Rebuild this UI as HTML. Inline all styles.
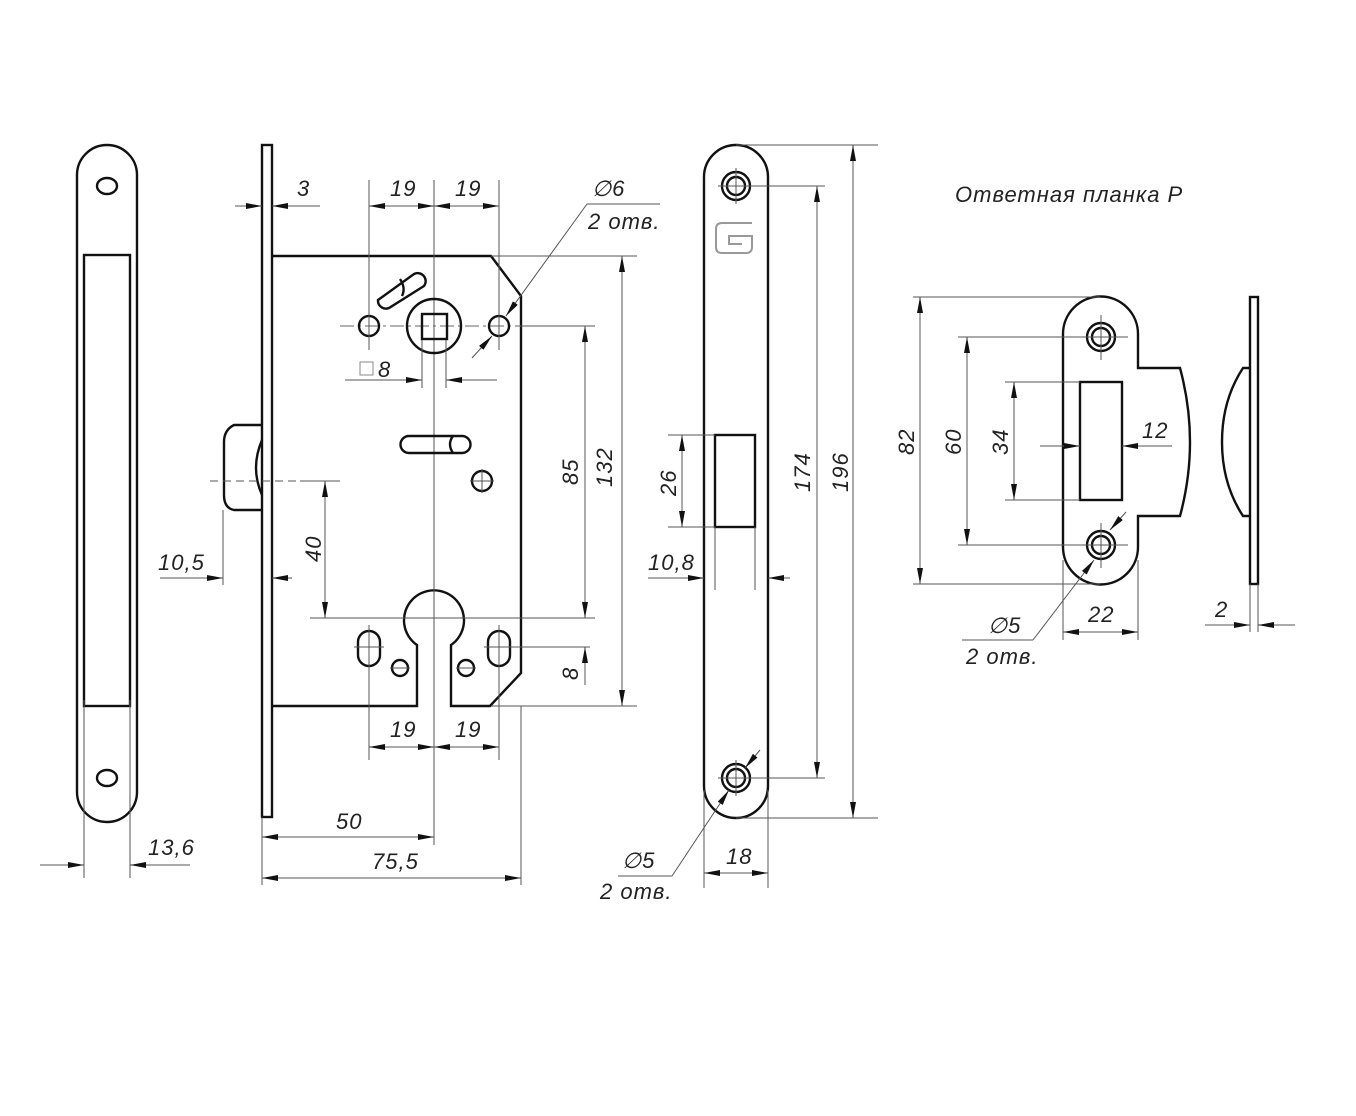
<!DOCTYPE html>
<html><head><meta charset="utf-8"><style>
html,body{margin:0;padding:0;background:#fff}
svg{display:block}
text{font-family:"Liberation Sans",sans-serif;font-style:italic;font-size:22px;letter-spacing:1px;fill:#222}
.o{stroke:#111;stroke-width:2.4;fill:none}
.t{stroke:#555;stroke-width:1;fill:none}
.c{stroke:#666;stroke-width:1;fill:none;stroke-dasharray:14 4 3 4}
.d{stroke:#555;stroke-width:1;fill:none;stroke-dasharray:8 5}
</style></head><body>
<svg width="1356" height="1116" viewBox="0 0 1356 1116" xmlns="http://www.w3.org/2000/svg">
<defs>
<marker id="a" viewBox="0 0 16 6" refX="16" refY="3" markerWidth="16" markerHeight="6" orient="auto" markerUnits="userSpaceOnUse"><path d="M0,0L16,3L0,6z" fill="#111"/></marker>
<marker id="b" viewBox="0 0 16 6" refX="0" refY="3" markerWidth="16" markerHeight="6" orient="auto" markerUnits="userSpaceOnUse"><path d="M16,0L0,3L16,6z" fill="#111"/></marker>
</defs>

<!-- LEFT VIEW -->
<path class="o" d="M77,175 A30,30 0 0 1 137,175 L137,792 A30,30 0 0 1 77,792 Z"/>
<rect class="o" x="84" y="255" width="46" height="451"/>
<ellipse class="o" cx="107" cy="186" rx="10" ry="8"/>
<ellipse class="o" cx="107" cy="778" rx="10" ry="8"/>
<line class="t" x1="84" y1="700" x2="84" y2="878"/>
<line class="t" x1="130" y1="700" x2="130" y2="878"/>
<line class="t" x1="40" y1="865" x2="84" y2="865" marker-end="url(#a)"/>
<line class="t" x1="190" y1="865" x2="130" y2="865" marker-end="url(#a)"/>
<text x="148" y="855">13,6</text>

<!-- LOCK BODY -->
<rect class="o" x="262" y="145" width="10" height="672"/>
<path class="o" d="M272,256 L491,256 L521,296 L521,673 L490,706 L451,706 L451,645 A30,30 0 1 0 417,645 L417,706 L272,706"/>
<!-- latch -->
<path class="o" d="M262,425 L234,425 Q224,430 224,442 L224,495 Q224,508 234,510 L262,510"/>
<path class="o" d="M262,440 Q250,468 262,495"/>
<line class="d" x1="210" y1="481" x2="340" y2="481"/>
<line class="t" x1="434" y1="180" x2="434" y2="845"/>
<line class="c" x1="340" y1="326" x2="530" y2="326"/>
<circle class="o" cx="434" cy="326" r="27"/>
<rect class="o" x="422" y="314" width="25" height="25"/>
<circle class="o" cx="369" cy="326" r="10"/>
<circle class="o" cx="499" cy="326" r="10"/>
<line class="t" x1="369" y1="310" x2="369" y2="342"/><line class="t" x1="499" y1="310" x2="499" y2="342"/>
<path class="o" d="M378,300 L414,274 A8,8 0 0 1 424,286 L389,308 A8,8 0 0 1 378,300 Z"/>
<path class="o" d="M400,279 Q406,288 402,296"/>
<path class="o" d="M409,436 L462,436 A8,8 0 0 1 462,453 L409,453 A8,8 0 0 1 409,436 Z"/>
<path class="o" d="M453,436 Q447,444 453,453"/>
<circle class="o" cx="482" cy="481" r="10"/>
<line class="t" x1="470" y1="481" x2="494" y2="481"/><line class="t" x1="482" y1="469" x2="482" y2="493"/>
<rect class="o" x="358" y="631" width="22" height="35" rx="11"/>
<rect class="o" x="488" y="631" width="22" height="35" rx="11"/>
<circle class="o" cx="400" cy="668" r="8"/>
<circle class="o" cx="466" cy="668" r="8"/>
<line class="t" x1="354" y1="647" x2="384" y2="647"/><line class="t" x1="484" y1="647" x2="590" y2="647"/>
<line class="t" x1="369" y1="625" x2="369" y2="760"/><line class="t" x1="499" y1="625" x2="499" y2="760"/>
<line class="t" x1="390" y1="668" x2="410" y2="668"/><line class="t" x1="456" y1="668" x2="476" y2="668"/>
<line class="t" x1="369" y1="180" x2="369" y2="350"/>
<line class="t" x1="499" y1="180" x2="499" y2="350"/>
<line class="t" x1="235" y1="206" x2="262" y2="206" marker-end="url(#a)"/>
<line class="t" x1="320" y1="206" x2="272" y2="206" marker-end="url(#a)"/>
<text x="297" y="196">3</text>
<line class="t" x1="369" y1="206" x2="434" y2="206" marker-start="url(#b)" marker-end="url(#a)"/>
<line class="t" x1="434" y1="206" x2="499" y2="206" marker-start="url(#b)" marker-end="url(#a)"/>
<text x="390" y="196">19</text><text x="455" y="196">19</text>
<line class="t" x1="587" y1="204" x2="660" y2="204"/>
<line class="t" x1="587" y1="204" x2="506" y2="316" marker-end="url(#a)"/>
<line class="t" x1="472" y1="358" x2="492" y2="336" marker-end="url(#a)"/>
<text x="592" y="196">∅6</text><text x="588" y="229">2 отв.</text>
<line class="t" x1="422" y1="340" x2="422" y2="388"/><line class="t" x1="446" y1="340" x2="446" y2="388"/>
<line class="t" x1="400" y1="380" x2="422" y2="380" marker-end="url(#a)"/>
<line class="t" x1="497" y1="380" x2="446" y2="380" marker-end="url(#a)"/>
<line class="t" x1="345" y1="380" x2="400" y2="380"/>
<rect x="360" y="362" width="13" height="13" fill="none" stroke="#888"/>
<text x="378" y="377">8</text>
<line class="t" x1="491" y1="256" x2="637" y2="256"/>
<line class="t" x1="491" y1="706" x2="637" y2="706"/>
<line class="t" x1="521" y1="326" x2="595" y2="326"/>
<line class="t" x1="310" y1="618" x2="595" y2="618"/>
<line class="t" x1="622" y1="256" x2="622" y2="706" marker-start="url(#b)" marker-end="url(#a)"/>
<line class="t" x1="585" y1="326" x2="585" y2="618" marker-start="url(#b)" marker-end="url(#a)"/>
<line class="t" x1="585" y1="647" x2="585" y2="685" marker-start="url(#b)"/>
<text transform="translate(612,487) rotate(-90)">132</text>
<text transform="translate(578,485) rotate(-90)">85</text>
<text transform="translate(578,680) rotate(-90)">8</text>
<line class="t" x1="300" y1="481" x2="340" y2="481"/>
<line class="t" x1="325" y1="481" x2="325" y2="618" marker-start="url(#b)" marker-end="url(#a)"/>
<text transform="translate(321,562) rotate(-90)">40</text>
<line class="t" x1="223" y1="510" x2="223" y2="585"/>
<line class="t" x1="160" y1="578" x2="223" y2="578" marker-end="url(#a)"/>
<line class="t" x1="292" y1="578" x2="272" y2="578" marker-end="url(#a)"/>
<text x="158" y="570">10,5</text>
<line class="t" x1="369" y1="747" x2="434" y2="747" marker-start="url(#b)" marker-end="url(#a)"/>
<line class="t" x1="434" y1="747" x2="499" y2="747" marker-start="url(#b)" marker-end="url(#a)"/>
<text x="390" y="737">19</text><text x="455" y="737">19</text>
<line class="t" x1="262" y1="817" x2="262" y2="885"/>
<line class="t" x1="521" y1="706" x2="521" y2="885"/>
<line class="t" x1="262" y1="837" x2="434" y2="837" marker-start="url(#b)" marker-end="url(#a)"/>
<line class="t" x1="262" y1="878" x2="521" y2="878" marker-start="url(#b)" marker-end="url(#a)"/>
<text x="336" y="829">50</text><text x="372" y="869">75,5</text>

<!-- FACEPLATE -->
<path class="o" d="M704,177 A32,32 0 0 1 768,177 L768,786 A32,32 0 0 1 704,786 Z"/>
<circle class="o" cx="736" cy="186" r="14"/><circle class="o" cx="736" cy="186" r="9"/>
<circle class="o" cx="736" cy="778" r="14"/><circle class="o" cx="736" cy="778" r="9"/>
<line class="t" x1="718" y1="186" x2="825" y2="186"/><line class="t" x1="736" y1="168" x2="736" y2="204"/>
<line class="t" x1="718" y1="778" x2="825" y2="778"/><line class="t" x1="736" y1="760" x2="736" y2="796"/>
<path d="M752,223 L722,223 Q716,223 716,229 L716,247 Q716,253 722,253 L746,253 Q752,253 752,247 L752,236 L729,236 L729,244 L742,244" fill="none" stroke="#999" stroke-width="2"/>
<rect class="o" x="715" y="435" width="40" height="92"/>
<line class="t" x1="668" y1="435" x2="715" y2="435"/><line class="t" x1="668" y1="527" x2="715" y2="527"/>
<line class="t" x1="682" y1="435" x2="682" y2="527" marker-start="url(#b)" marker-end="url(#a)"/>
<text transform="translate(676,496) rotate(-90)">26</text>
<line class="t" x1="715" y1="527" x2="715" y2="590"/><line class="t" x1="755" y1="527" x2="755" y2="590"/>
<line class="t" x1="648" y1="578" x2="704" y2="578" marker-end="url(#a)"/>
<line class="t" x1="790" y1="578" x2="768" y2="578" marker-end="url(#a)"/>
<text x="648" y="570">10,8</text>
<line class="t" x1="736" y1="145" x2="878" y2="145"/><line class="t" x1="736" y1="818" x2="878" y2="818"/>
<line class="t" x1="853" y1="145" x2="853" y2="818" marker-start="url(#b)" marker-end="url(#a)"/>
<line class="t" x1="817" y1="186" x2="817" y2="778" marker-start="url(#b)" marker-end="url(#a)"/>
<text transform="translate(810,492) rotate(-90)">174</text>
<text transform="translate(848,492) rotate(-90)">196</text>
<line class="t" x1="704" y1="790" x2="704" y2="888"/><line class="t" x1="768" y1="790" x2="768" y2="888"/>
<line class="t" x1="704" y1="873" x2="768" y2="873" marker-start="url(#b)" marker-end="url(#a)"/>
<text x="726" y="864">18</text>
<line class="t" x1="618" y1="876" x2="672" y2="876"/>
<line class="t" x1="672" y1="876" x2="729" y2="790" marker-end="url(#a)"/>
<line class="t" x1="760" y1="750" x2="745" y2="768" marker-end="url(#a)"/>
<text x="622" y="868">∅5</text><text x="600" y="899">2 отв.</text>

<!-- STRIKE PLATE -->
<text x="955" y="202">Ответная планка Р</text>
<path class="o" d="M1063,334 A37.5,37.5 0 0 1 1138,334 L1138,368 L1180,368 Q1200,442 1180,516 L1138,516 L1138,547 A37.5,37.5 0 0 1 1063,547 Z"/>
<rect class="o" x="1080" y="382" width="42" height="118"/>
<circle class="o" cx="1101" cy="337" r="14"/><circle class="o" cx="1101" cy="337" r="9"/>
<circle class="o" cx="1101" cy="545" r="14"/><circle class="o" cx="1101" cy="545" r="9"/>
<line class="t" x1="1101" y1="315" x2="1101" y2="360"/><line class="t" x1="1101" y1="523" x2="1101" y2="568"/>
<line class="t" x1="913" y1="297" x2="1100" y2="297"/><line class="t" x1="913" y1="584" x2="1100" y2="584"/>
<line class="t" x1="958" y1="337" x2="1128" y2="337"/><line class="t" x1="958" y1="545" x2="1128" y2="545"/>
<line class="t" x1="1005" y1="382" x2="1080" y2="382"/><line class="t" x1="1005" y1="500" x2="1080" y2="500"/>
<line class="t" x1="920" y1="297" x2="920" y2="584" marker-start="url(#b)" marker-end="url(#a)"/>
<line class="t" x1="967" y1="337" x2="967" y2="545" marker-start="url(#b)" marker-end="url(#a)"/>
<line class="t" x1="1014" y1="382" x2="1014" y2="500" marker-start="url(#b)" marker-end="url(#a)"/>
<text transform="translate(914,455) rotate(-90)">82</text>
<text transform="translate(961,455) rotate(-90)">60</text>
<text transform="translate(1008,455) rotate(-90)">34</text>
<line class="t" x1="1040" y1="446" x2="1080" y2="446" marker-end="url(#a)"/>
<line class="t" x1="1172" y1="446" x2="1122" y2="446" marker-end="url(#a)"/>
<text x="1142" y="438">12</text>
<line class="t" x1="1063" y1="560" x2="1063" y2="640"/><line class="t" x1="1138" y1="560" x2="1138" y2="640"/>
<line class="t" x1="1063" y1="632" x2="1138" y2="632" marker-start="url(#b)" marker-end="url(#a)"/>
<text x="1088" y="622">22</text>
<line class="t" x1="962" y1="640" x2="1033" y2="640"/>
<line class="t" x1="1033" y1="640" x2="1094" y2="560" marker-end="url(#a)"/>
<line class="t" x1="1126" y1="512" x2="1110" y2="530" marker-end="url(#a)"/>
<text x="988" y="633">∅5</text><text x="966" y="664">2 отв.</text>
<rect class="o" x="1250" y="297" width="8" height="287"/>
<path class="o" d="M1250,368 L1243,368 Q1222,400 1222,442 Q1222,484 1243,516 L1250,516"/>
<line class="t" x1="1250" y1="584" x2="1250" y2="632"/><line class="t" x1="1258" y1="584" x2="1258" y2="632"/>
<line class="t" x1="1205" y1="625" x2="1250" y2="625" marker-end="url(#a)"/>
<line class="t" x1="1295" y1="625" x2="1258" y2="625" marker-end="url(#a)"/>
<text x="1215" y="617">2</text>
</svg>
</body></html>
